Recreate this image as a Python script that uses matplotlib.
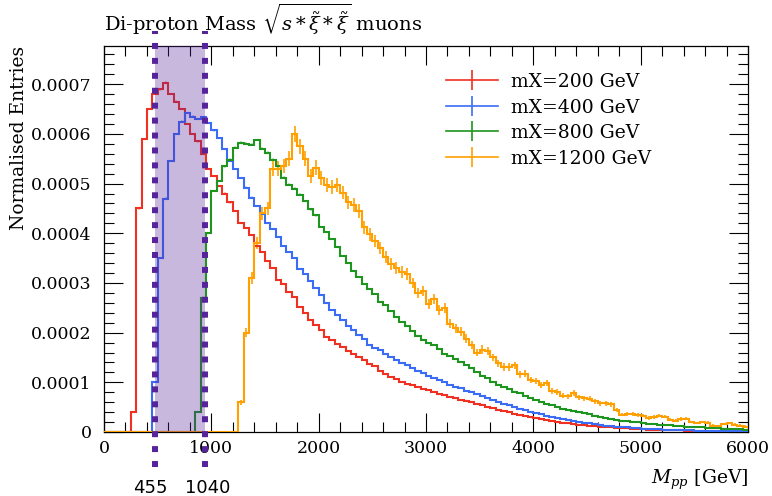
import numpy as np
import matplotlib
matplotlib.use("Agg")
from matplotlib import pyplot as plt
from matplotlib.lines import Line2D

plt.rcParams['font.family'] = ['DejaVu Serif']
plt.rcParams['mathtext.fontset'] = 'dejavuserif'

# 50 GeV bins from 0 to 6000, values in units of 1e-6 (normalised entries)
bin_edges = np.arange(0, 6001, 50)

red_vals = [
    0, 0, 0, 0, 0, 40, 450, 590, 650, 680,
    690, 703, 680, 665, 650, 620, 600, 585, 560, 530,
    515, 495, 480, 462, 445, 420, 410, 396, 375, 362,
    345, 330, 305, 298, 282, 272, 252, 240, 225, 215,
    205, 192, 185, 178, 172, 163, 157, 150, 144, 137,
    132, 122, 117, 111, 106, 101, 97, 94, 90, 86,
    84, 81, 77, 75, 71, 68, 65, 62, 60, 56,
    54, 51, 49, 45, 43, 40, 37, 35, 32, 30,
    28, 26, 24, 22, 21, 19, 18, 16, 15, 14,
    13, 12, 11, 10, 9.5, 9, 8.2, 7.5, 7, 6.2,
    5.6, 5, 4.7, 4.4, 4, 3.7, 3.5, 3.3, 3, 2.8,
    2.6, 2.4, 2.2, 2, 1.8, 1.7, 1.5, 1.4, 1.3, 1.2,
]

blue_vals = [
    0, 0, 0, 0, 0, 0, 0, 0, 0, 100,
    350, 470, 545, 600, 625, 642, 635, 630, 634, 622,
    607, 592, 570, 545, 530, 512, 492, 472, 455, 438,
    420, 408, 392, 374, 362, 350, 328, 318, 303, 290,
    275, 260, 245, 236, 225, 214, 205, 196, 188, 176,
    170, 165, 158, 150, 144, 138, 134, 128, 123, 118,
    113, 108, 104, 100, 95, 91, 88, 83, 80, 76,
    72, 68, 64, 60, 57, 54, 50, 47, 44, 41,
    38, 36, 33, 31, 28, 26, 24, 22, 21, 19,
    18, 16, 14.5, 13, 12, 11, 10, 9.3, 8.5, 7.8,
    7, 6.4, 5.8, 5.2, 4.7, 4.3, 4, 3.7, 3.4, 3.2,
    3, 2.8, 2.6, 2.4, 2.2, 2, 1.9, 1.8, 1.7, 1.6,
]

green_vals = [
    0, 0, 0, 0, 0, 0, 0, 0, 0, 0,
    0, 0, 0, 0, 0, 0, 0, 40, 270, 400,
    485, 505, 535, 548, 572, 582, 580, 578, 588, 570,
    562, 548, 535, 512, 498, 490, 478, 465, 448, 436,
    412, 402, 388, 372, 355, 340, 325, 312, 298, 288,
    278, 262, 255, 243, 232, 222, 214, 203, 193, 186,
    180, 175, 167, 158, 152, 146, 141, 135, 128, 120,
    112, 108, 101, 95, 90, 86, 81, 78, 73, 68,
    64, 61, 57, 54, 51, 47, 44, 42, 40, 38,
    36, 33, 31, 29, 26, 24, 23, 22, 21, 20,
    18, 17, 16, 15, 14.5, 14, 13, 12, 11, 10.5,
    9.8, 9.3, 8.8, 8.2, 7.6, 7, 6.5, 6, 5.5, 5,
]

orange_vals = [
    0, 0, 0, 0, 0, 0, 0, 0, 0, 0,
    0, 0, 0, 0, 0, 0, 0, 0, 0, 0,
    0, 0, 0, 0, 0, 60, 200, 310, 380, 440,
    450, 530, 530, 535, 550, 600, 575, 550, 515, 532,
    512, 498, 493, 498, 482, 462, 457, 445, 412, 398,
    385, 370, 352, 338, 330, 322, 318, 300, 280, 284,
    258, 268, 245, 250, 218, 209, 202, 188, 175, 160,
    166, 163, 150, 138, 131, 131, 134, 116, 117, 105,
    103, 94, 99, 82, 80, 73, 72, 78, 70, 68,
    67, 62, 58, 58, 56, 45, 35, 37, 37, 34,
    33, 28, 30, 33, 31, 25, 23, 26, 27, 20,
    18, 20, 19, 13, 12, 16, 18, 15, 13, 11,
]

labels = ["mX=200 GeV", "mX=400 GeV", "mX=800 GeV", "mX=1200 GeV"]
colors = ["#f03020", "#3b6cf5", "#1e951e", "#ffa000"]
n_entries = [2.0e6, 2.0e6, 1.5e6, 5.0e4]  # sample sizes for Poisson errors
err_alpha = [0.35, 0.35, 0.35, 1.0]

cut_pos = [475, 941]
cut_labels = ["455", "1040"]
purple = "#56239b"

fig = plt.figure(figsize=(7.72, 4.96), dpi=100)
ax = fig.add_axes([104 / 772, 1 - 432 / 496, 644 / 772, 386 / 496])

centers = 0.5 * (bin_edges[1:] + bin_edges[:-1])
width = bin_edges[1] - bin_edges[0]
for vals, lab, c, n, ea in zip([red_vals, blue_vals, green_vals, orange_vals],
                               labels, colors, n_entries, err_alpha):
    y = np.array(vals) * 1e-6
    err = np.sqrt(y / (width * n))
    ax.stairs(y, bin_edges, color=c, lw=1.5, baseline=None, zorder=3)
    m = y > 0
    ax.errorbar(centers[m], y[m], yerr=err[m], fmt='none', ecolor=c,
                elinewidth=1.2, alpha=ea, zorder=2)

# selection window
ax.axvspan(cut_pos[0], cut_pos[1], color=purple, alpha=0.32, lw=0, zorder=5)
for xc in cut_pos:
    ax.axvline(xc, ymin=-0.09, ymax=1.04, clip_on=False, color=purple,
               lw=4.3, dashes=(1, 1.5), dash_capstyle='butt', zorder=10)
fig.text(150 / 772, 1 - 488 / 496, cut_labels[0], ha='center', va='center',
         fontsize=13, family='DejaVu Sans')
fig.text(208 / 772, 1 - 488 / 496, cut_labels[1], ha='center', va='center',
         fontsize=13, family='DejaVu Sans')

ax.set_xlim(0, 6000)
ax.set_ylim(0, 0.000777)
ax.set_xticks(np.arange(0, 6001, 1000))
ax.set_xticks(np.arange(0, 6001, 200), minor=True)
ax.set_yticks(np.arange(0, 0.00075, 0.0001))
ax.set_yticks(np.arange(0, 0.00078, 0.00002), minor=True)
ax.set_yticklabels(["0"] + ["%.4f" % v for v in np.arange(0.0001, 0.00075, 0.0001)])
ax.tick_params(which='both', direction='in', top=True, right=True,
               labelsize=12.5, width=0.8)
ax.tick_params(which='major', length=13.5)
ax.tick_params(which='minor', length=7)
ax.tick_params(axis='x', pad=6)
ax.tick_params(axis='y', pad=9)
for s in ax.spines.values():
    s.set_linewidth(0.9)

ax.set_ylabel("Normalised Entries", fontsize=13.5, loc='top')
ax.yaxis.set_label_coords(-0.118, 1.0)
ax.set_xlabel(r"$M_{pp}$ [GeV]", fontsize=13.5, loc='right')
ax.xaxis.set_label_coords(1.0, -0.093)

fig.text(104 / 772, 1 - 31 / 496,
         r"Di-proton Mass $\sqrt{s*\tilde{\xi}*\tilde{\xi}}$ muons",
         fontsize=14, va='baseline', ha='left')

handles = [Line2D([], [], color=c, lw=1.2, marker='|', markersize=15,
                  markeredgewidth=1.2) for c in colors]
ax.legend(handles, labels, loc='upper left', bbox_to_anchor=(0.531, 0.93),
          frameon=False, fontsize=13.5, handlelength=2.75, handletextpad=0.7,
          labelspacing=0.4, borderpad=0, borderaxespad=0)

fig.savefig("out.png", dpi=100)
